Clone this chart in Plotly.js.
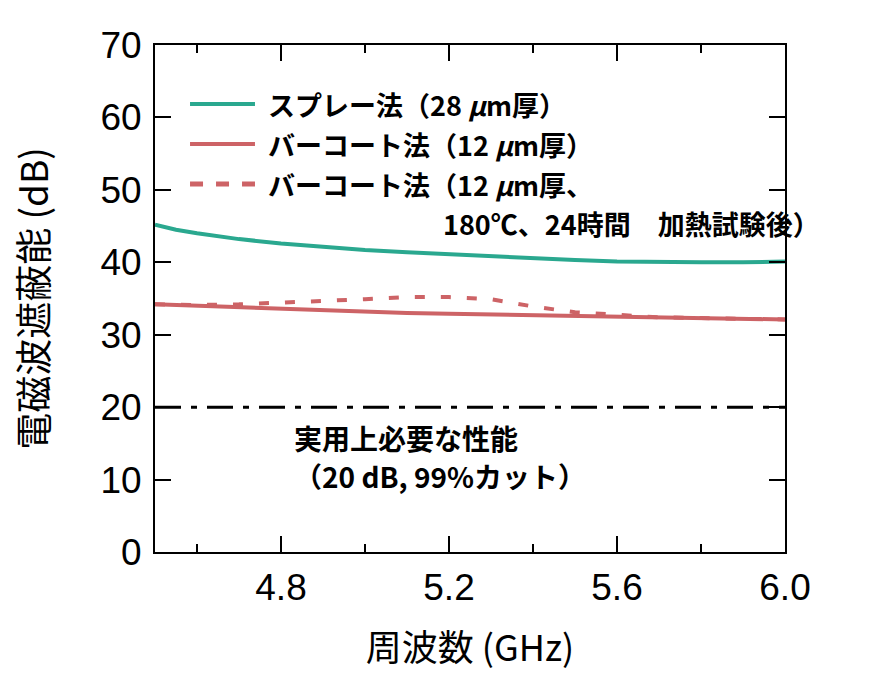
<!DOCTYPE html>
<html>
<head>
<meta charset="utf-8">
<script src="https://cdn.plot.ly/plotly-3.0.1.min.js"></script>
<style>
  html, body { margin: 0; padding: 0; background: #ffffff; }
  #chart { width: 880px; height: 695px; }
</style>
</head>
<body>
<div id="chart"></div>
<script>
// ---- data ----
var freqGHz = [4.50, 4.55, 4.60, 4.70, 4.80, 4.90, 5.00, 5.10, 5.20, 5.30, 5.40, 5.50, 5.60, 5.70, 5.80, 5.90, 6.00];
var sprayDB = [45.2, 44.5, 44.0, 43.2, 42.6, 42.1, 41.7, 41.4, 41.1, 40.8, 40.5, 40.3, 40.1, 40.0, 40.0, 40.0, 40.1];
var barDB   = [34.2, 34.1, 34.0, 33.8, 33.5, 33.3, 33.1, 33.0, 32.9, 32.8, 32.7, 32.5, 32.4, 32.3, 32.3, 32.2, 32.1];
var heatedDB = [34.2, 34.1, 34.1, 34.2, 34.4, 34.6, 34.9, 35.2, 35.2, 34.9, 33.9, 33.1, 32.7, 32.4, 32.3, 32.2, 32.1];
var requiredX = [4.5, 6.0];
var requiredY = [20, 20];

var seriesNames = ['スプレー法（28 <i>μ</i>m厚）', 'バーコート法（12 <i>μ</i>m厚）', 'バーコート法（12 <i>μ</i>m厚、', '180℃、24時間　加熱試験後）'];
var requiredLabel = ['実用上必要な性能', '（20 dB, 99%カット）'];
var xTickVals = [4.8, 5.2, 5.6, 6.0];
var xTickText = ['4.8', '5.2', '5.6', '6.0'];
var xMinorVals = [4.6, 5.0, 5.4, 5.8];
var yTickVals = [0, 10, 20, 30, 40, 50, 60, 70];

var GREEN = '#2aa88f';
var RED = '#cd6366';
var JP = '"Noto Sans CJK JP", "Noto Sans", sans-serif';
var AR = 'Arial, "Liberation Sans", sans-serif';

var traces = [
  {x: freqGHz, y: sprayDB, mode: 'lines', line: {color: GREEN, width: 4}, showlegend: false, hoverinfo: 'skip'},
  {x: freqGHz, y: barDB, mode: 'lines', line: {color: RED, width: 4}, showlegend: false, hoverinfo: 'skip'},
  {x: freqGHz, y: heatedDB, mode: 'lines', line: {color: RED, width: 4, dash: '10px,16px'}, showlegend: false, hoverinfo: 'skip'},
  {x: requiredX, y: requiredY, mode: 'lines', line: {color: '#000000', width: 3, dash: '26px,10px,6px,10px'}, showlegend: false, hoverinfo: 'skip'}
];

// legend rows (paper coords)
var rowY = [0.8836, 0.8047, 0.7258, 0.6489];
var keyX0 = 0.0556, keyX1 = 0.1587, textX = 0.1778, text4X = 0.455;

var shapes = [
  {type: 'line', xref: 'paper', yref: 'paper', x0: keyX0, x1: keyX1, y0: rowY[0], y1: rowY[0], line: {color: GREEN, width: 4}},
  {type: 'line', xref: 'paper', yref: 'paper', x0: keyX0, x1: keyX1, y0: rowY[1], y1: rowY[1], line: {color: RED, width: 4}},
  {type: 'line', xref: 'paper', yref: 'paper', x0: keyX0, x1: keyX1, y0: rowY[2], y1: rowY[2], line: {color: RED, width: 5, dash: '13px,13px'}}
];

var legFont = {family: JP, size: 27, color: '#000000'};
var reqFont = {family: JP, size: 28, color: '#000000'};
var annotations = [
  {xref: 'paper', yref: 'paper', x: textX, y: rowY[0], xanchor: 'left', yanchor: 'middle', showarrow: false, borderpad: 0, text: '<b>' + seriesNames[0] + '</b>', font: legFont},
  {xref: 'paper', yref: 'paper', x: textX, y: rowY[1], xanchor: 'left', yanchor: 'middle', showarrow: false, borderpad: 0, text: '<b>' + seriesNames[1] + '</b>', font: legFont},
  {xref: 'paper', yref: 'paper', x: textX, y: rowY[2], xanchor: 'left', yanchor: 'middle', showarrow: false, borderpad: 0, text: '<b>' + seriesNames[2] + '</b>', font: legFont},
  {xref: 'paper', yref: 'paper', x: text4X, y: rowY[3], xanchor: 'left', yanchor: 'middle', showarrow: false, borderpad: 0, text: '<b>' + seriesNames[3] + '</b>', font: legFont},
  {xref: 'paper', yref: 'paper', x: 0.219, y: 0.2249, xanchor: 'left', yanchor: 'middle', showarrow: false, borderpad: 0,
   text: '<b>' + requiredLabel[0] + '</b>', font: reqFont},
  {xref: 'paper', yref: 'paper', x: 0.219, y: 0.1499, xanchor: 'left', yanchor: 'middle', showarrow: false, borderpad: 0,
   text: '<b>' + requiredLabel[1] + '</b>', font: reqFont}
];

var layout = {
  width: 880, height: 695,
  margin: {l: 155, r: 95, t: 45, b: 143},
  paper_bgcolor: '#ffffff', plot_bgcolor: '#ffffff',
  showlegend: false,
  xaxis: {
    range: [4.5, 6.0], tickmode: 'array', tickvals: xTickVals, ticktext: xTickText,
    ticks: 'inside', ticklen: 16, tickwidth: 2, tickcolor: '#000000',
    minor: {tickmode: 'array', tickvals: xMinorVals, ticks: 'inside', ticklen: 8, tickwidth: 2, tickcolor: '#000000'},
    showline: true, linecolor: '#000000', linewidth: 2, mirror: 'ticks',
    showgrid: false, zeroline: false,
    tickfont: {family: AR, size: 37, color: '#000000'},
    ticklabelstandoff: 2,
    title: {text: '周波数 (GHz)', font: {family: JP, size: 36, color: '#000000'}, standoff: 28}
  },
  yaxis: {
    range: [0, 70], tickmode: 'array', tickvals: yTickVals,
    ticks: 'inside', ticklen: 16, tickwidth: 2, tickcolor: '#000000',
    showline: true, linecolor: '#000000', linewidth: 2, mirror: 'ticks',
    showgrid: false, zeroline: false,
    tickfont: {family: AR, size: 37, color: '#000000'},
    ticklabelstandoff: 4,
    title: {text: '電磁波遮蔽能 (dB)', font: {family: JP, size: 37, color: '#000000'}, standoff: 40}
  },
  shapes: shapes,
  annotations: annotations
};

Plotly.newPlot('chart', traces, layout, {displayModeBar: false, staticPlot: true});
</script>
</body>
</html>
